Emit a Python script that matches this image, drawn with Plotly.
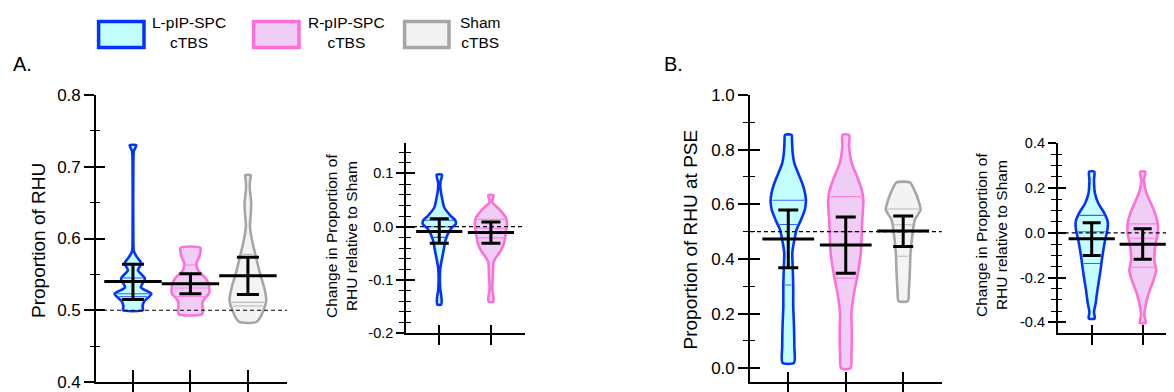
import numpy as np
import plotly.graph_objects as go

W, H = 1174, 392
BODY = 8  # default page margin around the figure div
FW, FH = W - BODY, H - BODY
FONT = "Liberation Sans, Arial, sans-serif"

# ---------------- data ----------------
groups = ["L-pIP-SPC cTBS", "R-pIP-SPC cTBS", "Sham cTBS"]
legend_labels = ["L-pIP-SPC<br>cTBS", "R-pIP-SPC<br>cTBS", "Sham<br>cTBS"]

# Panel A (main): Proportion of RHU
a_mean = [0.540, 0.537, 0.548]
a_upper = [0.564, 0.551, 0.574]
a_lower = [0.515, 0.523, 0.522]
a_quart = [[0.519, 0.523, 0.545], [0.519, 0.531, 0.563], [0.506, 0.511, 0.578]]
a_L_val = [0.500, 0.505, 0.512, 0.523, 0.532, 0.544, 0.556, 0.565, 0.574, 0.582, 0.600, 0.700, 0.722, 0.730]
a_L_den = [0.54, 0.52, 0.60, 1.00, 0.43, 0.65, 0.27, 0.46, 0.22, 0.05, 0.02, 0.02, 0.05, 0.18]
a_R_val = [0.495, 0.510, 0.516, 0.523, 0.535, 0.545, 0.555, 0.565, 0.575, 0.587]
a_R_den = [0.65, 0.65, 0.76, 1.00, 1.00, 0.82, 0.43, 0.33, 0.49, 0.54]
a_S_val = [0.484, 0.500, 0.514, 0.532, 0.551, 0.574, 0.598, 0.617, 0.635, 0.650, 0.670, 0.682, 0.688]
a_S_den = [0.49, 0.85, 1.00, 0.88, 0.66, 0.44, 0.22, 0.11, 0.16, 0.18, 0.10, 0.12, 0.15]

# Panel A (inset): change relative to Sham
ai_mean = [-0.009, -0.011]
ai_upper = [0.015, 0.009]
ai_lower = [-0.031, -0.031]
ai_quart = [[-0.020, 0.000, 0.012], [-0.021, -0.003, 0.014]]
ai_L_val = [-0.146, -0.136, -0.130, -0.117, -0.079, -0.067, -0.048, -0.023, -0.004, 0.005, 0.012, 0.020, 0.036, 0.055, 0.065, 0.078, 0.085, 0.0975]
ai_L_den = [0.12, 0.14, 0.12, 0.06, 0.06, 0.12, 0.24, 0.40, 0.70, 1.00, 0.97, 0.70, 0.30, 0.16, 0.10, 0.06, 0.08, 0.16]
ai_R_val = [-0.141, -0.133, -0.117, -0.092, -0.067, -0.058, -0.045, -0.030, -0.011, 0.005, 0.0175, 0.033, 0.046, 0.059]
ai_R_den = [0.14, 0.16, 0.08, 0.12, 0.16, 0.30, 0.60, 0.80, 0.90, 0.97, 0.90, 0.50, 0.08, 0.16]

# Panel B (main): Proportion of RHU at PSE
b_mean = [0.473, 0.451, 0.502]
b_upper = [0.579, 0.554, 0.557]
b_lower = [0.368, 0.348, 0.446]
b_quart = [[0.305, 0.526, 0.615], [0.330, 0.500, 0.628], [0.410, 0.525, 0.583]]
b_L_val = [0.020, 0.080, 0.154, 0.227, 0.300, 0.373, 0.422, 0.470, 0.507, 0.543, 0.580, 0.616, 0.665, 0.714, 0.750, 0.787, 0.836, 0.854]
b_L_den = [0.31, 0.33, 0.31, 0.27, 0.27, 0.24, 0.22, 0.33, 0.45, 0.69, 0.90, 0.96, 0.82, 0.54, 0.33, 0.24, 0.20, 0.18]
b_R_val = [0.000, 0.056, 0.130, 0.202, 0.275, 0.336, 0.422, 0.543, 0.616, 0.653, 0.700, 0.750, 0.812, 0.854]
b_R_den = [0.25, 0.31, 0.33, 0.31, 0.45, 0.63, 0.82, 0.90, 0.96, 0.87, 0.63, 0.33, 0.18, 0.18]
b_S_val = [0.246, 0.287, 0.348, 0.422, 0.494, 0.543, 0.580, 0.616, 0.653, 0.680]
b_S_den = [0.25, 0.31, 0.36, 0.40, 0.51, 0.63, 0.94, 0.82, 0.60, 0.36]

# Panel B (inset): change relative to Sham
bi_mean = [-0.027, -0.051]
bi_upper = [0.045, 0.018]
bi_lower = [-0.101, -0.118]
bi_quart = [[-0.137, 0.005, 0.078], [-0.154, -0.024, 0.040]]
bi_L_val = [-0.383, -0.353, -0.316, -0.256, -0.182, -0.107, -0.033, 0.012, 0.050, 0.087, 0.131, 0.176, 0.236, 0.273]
bi_L_den = [0.18, 0.14, 0.24, 0.35, 0.51, 0.65, 0.82, 0.96, 0.98, 0.78, 0.41, 0.20, 0.14, 0.16]
bi_R_val = [-0.403, -0.368, -0.330, -0.270, -0.210, -0.167, -0.122, -0.063, -0.003, 0.042, 0.087, 0.131, 0.184, 0.236, 0.273]
bi_R_den = [0.18, 0.10, 0.16, 0.37, 0.67, 0.82, 0.71, 0.76, 0.92, 0.92, 0.76, 0.51, 0.20, 0.08, 0.16]

# axis ticks
a_ticks = [0.4, 0.5, 0.6, 0.7, 0.8]
a_ticktext = ["0.4", "0.5", "0.6", "0.7", "0.8"]
ai_ticks = [-0.2, -0.1, 0.0, 0.1]
ai_ticktext = ["-0.2", "-0.1", "0.0", "0.1"]
b_ticks = [0.0, 0.2, 0.4, 0.6, 0.8, 1.0]
b_ticktext = ["0.0", "0.2", "0.4", "0.6", "0.8", "1.0"]
bi_ticks = [-0.4, -0.2, 0.0, 0.2, 0.4]
bi_ticktext = ["-0.4", "-0.2", "0.0", "0.2", "0.4"]

a_title = "Proportion of RHU"
b_title = "Proportion of RHU at PSE"
inset_title = "Change in Proportion of<br>RHU relative to Sham"
ref_main = 0.5
ref_inset = 0.0

# ---------------- styles ----------------
edge = ["#0433FF", "#FF6FD8", "#A6A6A6"]
fill = ["#C4FFFF", "#EFCDF5", "#F3F3F3"]
qcol = ["rgba(4,51,255,0.75)", "rgba(255,111,216,0.8)", "rgba(150,150,150,0.6)"]
VIOLIN_HALF = 0.32

fig = go.Figure()


def add_violin(ax, ay, center, vals, dens, quarts, gi):
    v = np.asarray(vals, float)
    d = np.asarray(dens, float) * VIOLIN_HALF
    xs = np.concatenate([center + d, (center - d)[::-1], [center + d[0]]])
    ys = np.concatenate([v, v[::-1], [v[0]]])
    fig.add_trace(go.Scatter(
        x=xs, y=ys, xaxis=ax, yaxis=ay, mode="lines", fill="toself",
        fillcolor=fill[gi], line=dict(color=edge[gi], width=2.6, shape="spline", smoothing=0.7),
        showlegend=False, hoverinfo="skip"))
    qx, qy = [], []
    for q in quarts:
        h = max(np.interp(q, v, d) - 0.03, 0.0)
        qx += [center - h, center + h, None]
        qy += [q, q, None]
    fig.add_trace(go.Scatter(x=qx, y=qy, xaxis=ax, yaxis=ay, mode="lines",
                             line=dict(color=qcol[gi], width=1.1),
                             showlegend=False, hoverinfo="skip"))


def add_errors(ax, ay, means, up, lo, mean_len, cap):
    pos = np.arange(1, len(means) + 1)
    m = np.asarray(means)
    fig.add_trace(go.Scatter(
        x=pos, y=m, xaxis=ax, yaxis=ay, mode="markers",
        marker=dict(symbol="line-ew", size=mean_len, color="black",
                    line=dict(color="black", width=3)),
        error_y=dict(type="data", symmetric=False, array=np.asarray(up) - m,
                     arrayminus=m - np.asarray(lo), width=cap, thickness=3, color="black"),
        showlegend=False, hoverinfo="skip"))


# panel A main (x, y)
for gi, (vals, dens) in enumerate([(a_L_val, a_L_den), (a_R_val, a_R_den), (a_S_val, a_S_den)]):
    add_violin("x", "y", gi + 1, vals, dens, a_quart[gi], gi)
add_errors("x", "y", a_mean, a_upper, a_lower, 41, 11)

# panel A inset (x2, y2)
for gi, (vals, dens) in enumerate([(ai_L_val, ai_L_den), (ai_R_val, ai_R_den)]):
    add_violin("x2", "y2", gi + 1, vals, dens, ai_quart[gi], gi)
add_errors("x2", "y2", ai_mean, ai_upper, ai_lower, 33, 9.5)

# panel B main (x3, y3)
for gi, (vals, dens) in enumerate([(b_L_val, b_L_den), (b_R_val, b_R_den), (b_S_val, b_S_den)]):
    add_violin("x3", "y3", gi + 1, vals, dens, b_quart[gi], gi)
add_errors("x3", "y3", b_mean, b_upper, b_lower, 37, 10)

# panel B inset (x4, y4)
for gi, (vals, dens) in enumerate([(bi_L_val, bi_L_den), (bi_R_val, bi_R_den)]):
    add_violin("x4", "y4", gi + 1, vals, dens, bi_quart[gi], gi)
add_errors("x4", "y4", bi_mean, bi_upper, bi_lower, 33, 9)

# dummy traces so overlay axes (for crossing ticks) are drawn
for i in range(1, 5):
    b = "" if i == 1 else str(i)
    fig.add_trace(go.Scatter(x=[None], y=[None], xaxis="x" + b, yaxis="y" + str(i + 4),
                             showlegend=False, hoverinfo="skip"))
    fig.add_trace(go.Scatter(x=[None], y=[None], xaxis="x" + str(i + 4), yaxis="y" + b,
                             showlegend=False, hoverinfo="skip"))


def px(x):
    return (x - BODY) / FW


def py(y):
    return 1 - (y - BODY) / FH


panels = [
    dict(xd=(96, 287), yd=(382, 95), xr=[0.357, 3.68], yr=[0.4, 0.8], tv=a_ticks, tt=a_ticktext,
         mdt=0.05, n=3, fs=17, tl=(10, 9), ml=4, xl=(11, 12)),
    dict(xd=(406, 525), yd=(333.3, 143.3), xr=[0.356, 2.66], yr=[-0.2, 0.1565], tv=ai_ticks, tt=ai_ticktext,
         mdt=0.02, n=2, fs=14.5, tl=(8, 9), ml=5, xl=(10, 8)),
    dict(xd=(750, 941.7), yd=(381.7, 95), xr=[0.334, 3.67], yr=[-0.049, 1.0], tv=b_ticks, tt=b_ticktext,
         mdt=0.1, n=3, fs=17, tl=(10, 10), ml=5, xl=(11, 10)),
    dict(xd=(1057.7, 1174), yd=(333.3, 143.3), xr=[0.333, 2.614], yr=[-0.449, 0.4], tv=bi_ticks, tt=bi_ticktext,
         mdt=0.05, n=2, fs=14.5, tl=(8, 8), ml=4.5, xl=(10, 8)),
]

layout = {}
for i, p in enumerate(panels, start=1):
    b = "" if i == 1 else str(i)
    o = str(i + 4)
    xdom = [px(p["xd"][0]), min(px(p["xd"][1]), 1.0)]
    ydom = [max(py(p["yd"][0]), 0.0), py(p["yd"][1])]
    xt = list(range(1, p["n"] + 1))
    common = dict(showgrid=False, zeroline=False, fixedrange=True, automargin=False)
    layout["xaxis" + b] = dict(domain=xdom, range=p["xr"], anchor="y" + b, showline=True, linecolor="black",
                               linewidth=1.6, ticks="outside", ticklen=p["xl"][0], tickwidth=1.6, tickcolor="black",
                               tickvals=xt, ticktext=[""] * p["n"], **common)
    layout["yaxis" + b] = dict(domain=ydom, range=p["yr"], anchor="x" + b, showline=True, linecolor="black",
                               linewidth=1.6, ticks="outside", ticklen=p["tl"][0], tickwidth=1.6, tickcolor="black",
                               tickvals=p["tv"], ticktext=p["tt"], tickfont=dict(size=p["fs"], color="black", family=FONT),
                               minor=dict(ticks="outside", ticklen=p["ml"], tickwidth=1.4, tickcolor="black",
                                          dtick=p["mdt"], tick0=0, showgrid=False),
                               **common)
    layout["xaxis" + o] = dict(overlaying="x" + b, anchor="y" + b, range=p["xr"], showline=False,
                               ticks="inside", ticklen=p["xl"][1], tickwidth=1.6, tickcolor="black",
                               tickvals=xt, showticklabels=False, **common)
    layout["yaxis" + o] = dict(overlaying="y" + b, anchor="x" + b, range=p["yr"], showline=False,
                               ticks="inside", ticklen=p["tl"][1], tickwidth=1.6, tickcolor="black",
                               tickvals=p["tv"], showticklabels=False,
                               minor=dict(ticks="inside", ticklen=p["ml"], tickwidth=1.4, tickcolor="black",
                                          dtick=p["mdt"], tick0=0, showgrid=False),
                               **common)

shapes = []
# dashed reference lines
for xr_, yr_, ref in [("x", "y", ref_main), ("x2", "y2", ref_inset), ("x3", "y3", ref_main), ("x4", "y4", ref_inset)]:
    shapes.append(dict(type="line", xref=xr_ + " domain", yref=yr_, x0=0, x1=1, y0=ref, y1=ref,
                       line=dict(color="black", width=1.2, dash="4px,3px"), layer="above"))

# legend swatches
leg_box_x = [(98.6, 144), (253.6, 299), (404.6, 449)]
leg_text_x = [188.6, 346.5, 480.6]
annotations = []
for gi in range(3):
    x0, x1 = leg_box_x[gi]
    shapes.append(dict(type="rect", xref="paper", yref="paper", x0=px(x0), x1=px(x1), y0=py(47.5), y1=py(21.5),
                       line=dict(color=edge[gi], width=3.5), fillcolor=fill[gi], layer="above"))
    annotations.append(dict(text=legend_labels[gi], xref="paper", yref="paper", x=px(leg_text_x[gi]), y=py(33),
                            xanchor="center", yanchor="middle", showarrow=False,
                            font=dict(size=15.5, color="black", family=FONT)))

# panel letters and axis titles
annotations += [
    dict(text="A.", xref="paper", yref="paper", x=px(11), y=py(64), xanchor="left", yanchor="middle",
         showarrow=False, font=dict(size=20, color="black", family=FONT)),
    dict(text="B.", xref="paper", yref="paper", x=px(662), y=py(64), xanchor="left", yanchor="middle",
         showarrow=False, font=dict(size=20, color="black", family=FONT)),
    dict(text=a_title, xref="paper", yref="paper", x=px(38.5), y=py(240.5), xanchor="center", yanchor="middle",
         textangle=-90, showarrow=False, font=dict(size=19, color="black", family=FONT)),
    dict(text=b_title, xref="paper", yref="paper", x=px(689.5), y=py(239), xanchor="center", yanchor="middle",
         textangle=-90, showarrow=False, font=dict(size=19, color="black", family=FONT)),
    dict(text=inset_title, xref="paper", yref="paper", x=px(341), y=py(236), xanchor="center", yanchor="middle",
         textangle=-90, showarrow=False, font=dict(size=15.5, color="black", family=FONT)),
    dict(text=inset_title, xref="paper", yref="paper", x=px(991), y=py(235), xanchor="center", yanchor="middle",
         textangle=-90, showarrow=False, font=dict(size=15.5, color="black", family=FONT)),
]

fig.update_layout(
    template="none",
    width=FW, height=FH, margin=dict(l=0, r=0, t=0, b=0, pad=0, autoexpand=False),
    paper_bgcolor="white", plot_bgcolor="rgba(0,0,0,0)",
    font=dict(family=FONT, color="black"),
    showlegend=False, shapes=shapes, annotations=annotations, **layout)

fig.write_html("out.html")
